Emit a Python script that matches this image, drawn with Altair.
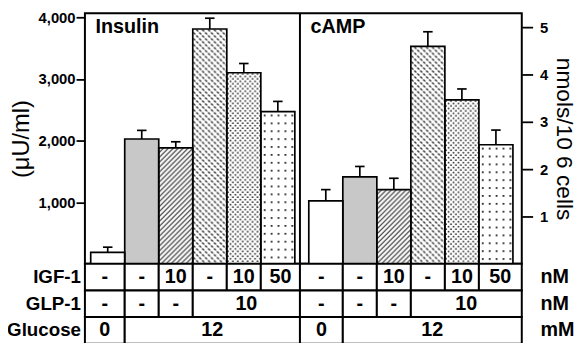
import base64
import altair as alt
import pandas as pd

FONT = "Liberation Sans"

# ---------------- data ----------------
conditions = ["Glc 0", "Glc 12", "Glc 12 + IGF-1 10", "Glc 12 + GLP-1 10",
              "Glc 12 + GLP-1 10 + IGF-1 10", "Glc 12 + GLP-1 10 + IGF-1 50"]
insulin = [185, 2025, 1880, 3810, 3100, 2470]
insulin_err = [85, 140, 100, 175, 150, 165]
camp = [1.33, 1.84, 1.57, 4.60, 3.47, 2.52]
camp_err = [0.24, 0.22, 0.24, 0.31, 0.23, 0.31]

igf1_labels = ["-", "-", "10", "-", "10", "50"]
glp1_cells = [("-", 0, 0), ("-", 1, 1), ("-", 2, 2), ("10", 3, 5)]
glucose_cells = [("0", 0, 0), ("12", 1, 5)]
row_names = ["IGF-1", "GLP-1", "Glucose"]
row_units = ["nM", "nM", "mM"]
panel_titles = ["Insulin", "cAMP"]

# ---------------- styles / layout ----------------
fills = ["#ffffff", "#c8c8c8", "#ffffff", "#ffffff", "#ffffff", "#ffffff"]


def pattern_url(tile_w, tile_h, body):
    svg = ("<svg xmlns='http://www.w3.org/2000/svg' width='100%' height='100%'>"
           f"<defs><pattern id='p' width='{tile_w}' height='{tile_h}' patternUnits='userSpaceOnUse'>"
           f"{body}</pattern></defs>"
           "<rect x='0' y='0' width='100%' height='100%' fill='url(#p)'/></svg>")
    return "data:image/svg+xml;base64," + base64.b64encode(svg.encode()).decode()


patterns = [
    "",
    "",
    pattern_url(5, 5, "<path d='M0,5 L5,0 M-1,1 L1,-1 M4,6 L6,4' stroke='#222' stroke-width='1.1'/>"),
    pattern_url(6, 6, "<path d='M0.5,3.5 L2.5,5.5 M3.5,0.5 L5.5,2.5' stroke='#222' stroke-width='1.3'/>"),
    pattern_url(5, 5, "<circle cx='1.2' cy='1.2' r='0.9' fill='#222'/><circle cx='3.7' cy='3.7' r='0.9' fill='#222'/>"),
    pattern_url(7, 8, "<rect x='3' y='3' width='1.8' height='1.8' fill='#222'/>"),
]
pattern_df = pd.DataFrame({"cond": conditions, "pat": patterns})

W, H = 443, 254
X_MAX = 12.84
P_START = [0.0, 6.32]
P_END = [6.32, 12.84]
B_OFF = [0.17, 0.26]

ins_df = pd.DataFrame({"cond": conditions, "col": range(6), "value": insulin, "err": insulin_err, "panel": 0})
camp_df = pd.DataFrame({"cond": conditions, "col": range(6), "value": camp, "err": camp_err, "panel": 1})

cells = []
for p in (0, 1):
    for c, lab in enumerate(igf1_labels):
        cells.append({"panel": p, "row": "IGF-1", "label": lab, "c0": c, "c1": c})
    for lab, c0, c1 in glp1_cells:
        cells.append({"panel": p, "row": "GLP-1", "label": lab, "c0": c0, "c1": c1})
    for lab, c0, c1 in glucose_cells:
        cells.append({"panel": p, "row": "Glucose", "label": lab, "c0": c0, "c1": c1})
cells_df = pd.DataFrame(cells)
rows_df = pd.DataFrame({"row": row_names, "unit": row_units})
titles_df = pd.DataFrame({"title": panel_titles, "panel": [0, 1]})

xs = alt.Scale(domain=[0, X_MAX], nice=False, zero=False)
fill_scale = alt.Scale(domain=conditions, range=fills)

pstart = f"(datum.panel == 0 ? {P_START[0]} : {P_START[1]})"
pend = f"(datum.panel == 0 ? {P_END[0]} : {P_END[1]})"
boff = f"(datum.panel == 0 ? {B_OFF[0]} : {B_OFF[1]})"


def bar_layers(df, domain, yaxis):
    base = alt.Chart(df).transform_calculate(
        x0=f"{pstart} + {boff} + datum.col",
        x1=f"{pstart} + {boff} + datum.col + 1",
        xc=f"{pstart} + {boff} + datum.col + 0.5",
        cl=f"{pstart} + {boff} + datum.col + 0.36",
        cr=f"{pstart} + {boff} + datum.col + 0.64",
        top="datum.value + datum.err",
        zero="0",
    )
    ys = alt.Scale(domain=domain, nice=False, zero=False)
    bars = base.mark_rect(strokeWidth=0).encode(
        x=alt.X("x0:Q", scale=xs, axis=None),
        x2="x1:Q",
        y=alt.Y("value:Q", scale=ys, axis=yaxis),
        y2="zero:Q",
        fill=alt.Fill("cond:N", scale=fill_scale, legend=None),
    )
    texture = base.transform_lookup(
        lookup="cond", from_=alt.LookupData(pattern_df, "cond", ["pat"])
    ).transform_filter("datum.pat != ''").mark_image(aspect=False).encode(
        x=alt.X("x0:Q", scale=xs, axis=None),
        x2="x1:Q",
        y=alt.Y("value:Q", scale=ys, axis=None),
        y2="zero:Q",
        url="pat:N",
    )
    outline = base.mark_rect(fillOpacity=0, stroke="black", strokeWidth=1.7).encode(
        x=alt.X("x0:Q", scale=xs, axis=None),
        x2="x1:Q",
        y=alt.Y("value:Q", scale=ys, axis=None),
        y2="zero:Q",
    )
    stem = base.mark_rule(color="black", strokeWidth=1.7).encode(
        x=alt.X("xc:Q", scale=xs, axis=None),
        y=alt.Y("value:Q", scale=ys, axis=None), y2="top:Q")
    cap = base.mark_rule(color="black", strokeWidth=1.7).encode(
        x=alt.X("cl:Q", scale=xs, axis=None), x2="cr:Q",
        y=alt.Y("top:Q", scale=ys, axis=None))
    return [bars, texture, outline, stem, cap]


ins_axis = alt.Axis(orient="left", values=[1000, 2000, 3000, 4000], format=",d",
                    tickSize=9, tickWidth=1.8, tickColor="black", domain=False, grid=False,
                    labelFont=FONT, labelFontSize=15, labelFontWeight="bold", labelColor="black",
                    labelPadding=1, title="(μU/ml)", titleFont=FONT, titleFontSize=24,
                    titleFontWeight="normal", titleColor="black", titlePadding=5)
camp_axis = alt.Axis(orient="right", values=[1, 2, 3, 4, 5], format="d",
                     tickSize=11, tickWidth=1.8, tickColor="black", domain=False, grid=False,
                     labelFont=FONT, labelFontSize=15, labelFontWeight="bold", labelColor="black",
                     labelPadding=7, title="nmols/10 6 cells", titleFont=FONT, titleFontSize=23,
                     titleFontWeight="normal", titleColor="black", titlePadding=4)

ins_layers = bar_layers(ins_df, [0, 4064], ins_axis)
camp_layers = bar_layers(camp_df, [0, 5.3], camp_axis)

ty = alt.Scale(domain=row_names, range=[H, H + 81], paddingInner=0, paddingOuter=0)

cell_base = alt.Chart(cells_df).transform_calculate(
    s=f"datum.c0 == 0 ? {pstart} : {pstart} + {boff} + datum.c0",
    e=f"datum.c1 == 5 ? {pend} : {pstart} + {boff} + datum.c1 + 1",
    m="(datum.s + datum.e) / 2",
)
cell_rects = cell_base.mark_rect(fill="white", stroke="black", strokeWidth=2).encode(
    x=alt.X("s:Q", scale=xs, axis=None), x2="e:Q",
    y=alt.Y("row:N", scale=ty, axis=None),
)
cell_text = cell_base.mark_text(font=FONT, fontSize=20, fontWeight="bold", color="black",
                                baseline="middle", align="center").encode(
    x=alt.X("m:Q", scale=xs, axis=None),
    y=alt.Y("row:N", scale=ty, axis=None),
    text="label:N",
)
row_labels = alt.Chart(rows_df).mark_text(font=FONT, fontSize=19, fontWeight="bold", color="black",
                                          align="right", baseline="middle").encode(
    x=alt.value(-4), y=alt.Y("row:N", scale=ty, axis=None), text="row:N")
unit_labels = alt.Chart(rows_df).mark_text(font=FONT, fontSize=20, fontWeight="bold", color="black",
                                           align="left", baseline="middle").encode(
    x=alt.value(462), y=alt.Y("row:N", scale=ty, axis=None), text="unit:N")

titles = alt.Chart(titles_df).transform_calculate(
    tx=f"{pstart} + 0.31"
).mark_text(font=FONT, fontSize=20, fontWeight="bold", color="black",
            align="left", baseline="alphabetic").encode(
    x=alt.X("tx:Q", scale=xs, axis=None), y=alt.value(20), text="title:N")

divider = alt.Chart(pd.DataFrame({"b": [P_END[0]]})).mark_rule(color="black", strokeWidth=2).encode(
    x=alt.X("b:Q", scale=xs, axis=None), y=alt.value(0), y2=alt.value(H))

chart = alt.layer(
    *ins_layers, *camp_layers, cell_rects, cell_text, row_labels, unit_labels, titles, divider
).resolve_scale(
    y="independent"
).properties(
    width=W, height=H,
    padding={"left": 78, "top": 3, "right": 56, "bottom": 86},
    autosize=alt.AutoSizeParams(type="none"),
).configure(font=FONT).configure_view(stroke="black", strokeWidth=2)

chart.save("out.html", embed_options={"renderer": "svg", "actions": False})
